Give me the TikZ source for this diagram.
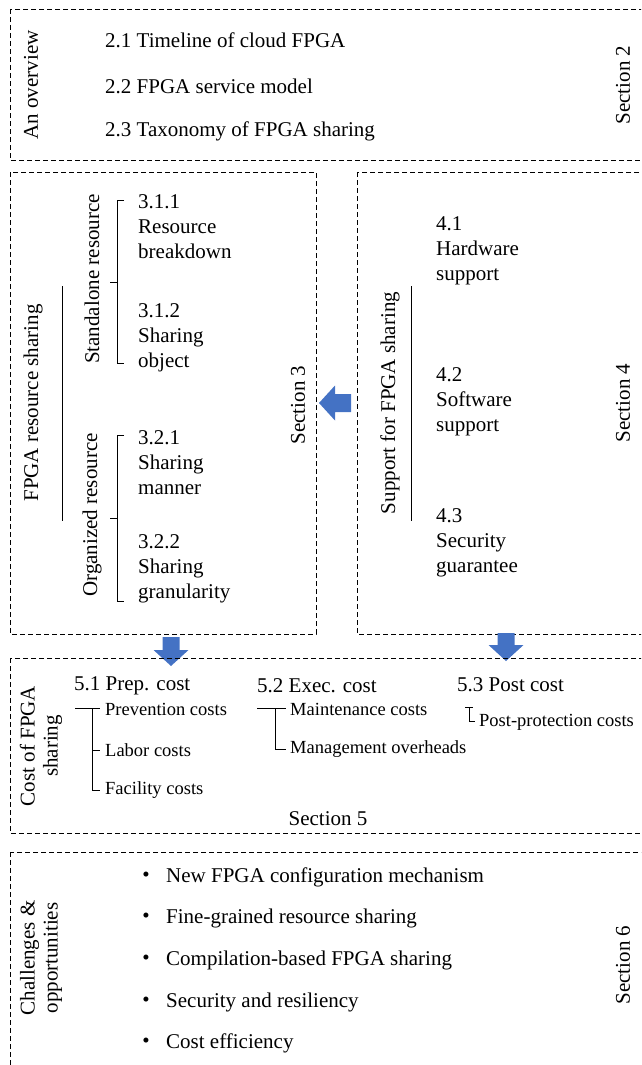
\documentclass[tikz,border=0pt]{standalone}
\usepackage{fontspec}
\setmainfont{Liberation Serif}
\usepackage{tikz}
\usepackage{xcolor}

\definecolor{arrowblue}{HTML}{4472C4}

\tikzset{
  secbox/.style={draw, dash pattern=on 5pt off 3pt, line width=0.8pt},
  txt/.style={inner sep=0pt, anchor=west, align=left, font=\fontsize{21}{25}\selectfont},
  subtxt/.style={inner sep=0pt, anchor=west, font=\fontsize{18.5}{22}\selectfont},
  sidetxt/.style={inner sep=0pt, rotate=90, align=center, font=\fontsize{21}{23}\selectfont},
  tree/.style={line width=0.8pt}
}

% fat block arrow: base point, angle, length
\newcommand{\fatarrow}[5]{%
  \fill[arrowblue, shift={#1}, rotate=#2]
    (0,-#4) -- (#3-16,-#4) -- (#3-16,-#5) -- (#3,0) -- (#3-16,#5) -- (#3-16,#4) -- (0,#4) -- cycle;}

\begin{document}
\begin{tikzpicture}[x=1pt, y=-1pt]
\useasboundingbox (0,0) rectangle (641,1065);
\clip (0,0) rectangle (641,1065);

% section 2
\draw[secbox] (10,9) rectangle (648,160);
\node[sidetxt] (ov) at (31,85) {An overview};
\node[txt] (s21) at (105,40) {2.1 Timeline of cloud FPGA};
\node[txt] (s22) at (105,86) {2.2 FPGA service model};
\node[txt] (s23) at (105,131) {2.3 Taxonomy of FPGA sharing};
\node[sidetxt] (sec2) at (623,85) {Section 2};

% section 3
\draw[secbox] (10,172) rectangle (316,634);
\node[sidetxt] (frs) at (33,403) {FPGA resource sharing};
\draw[tree] (62,286) -- (62,521);
\node[sidetxt] (sar) at (92,279) {Standalone resource};
\draw[tree] (124,200) -- (117,200) -- (117,363) -- (124,363);
\draw[tree] (110,282) -- (117,282);
\node[sidetxt] (orr) at (92,515) {Organized resource};
\draw[tree] (124,435) -- (117,435) -- (117,601) -- (124,601);
\draw[tree] (110,518) -- (117,518);
\node[txt] (s311) at (138,227) {3.1.1\\Resource\\breakdown};
\node[txt] (s312) at (138,338) {3.1.2\\Sharing\\object};
\node[txt] (s321) at (138,463) {3.2.1\\Sharing\\manner};
\node[txt] (s322) at (138,569) {3.2.2\\Sharing\\granularity};
\node[sidetxt] (sec3) at (298,405) {Section 3};

% section 4
\draw[secbox] (357,172) rectangle (648,634);
\node[sidetxt] (sfs) at (390,403) {Support for FPGA sharing};
\draw[tree] (411,286) -- (411,521);
\node[txt] (s41) at (436,251) {4.1\\Hardware\\support};
\node[txt] (s42) at (436,402) {4.2\\Software\\support};
\node[txt] (s43) at (436,543) {4.3\\Security\\guarantee};
\node[sidetxt] (sec4) at (623,403) {Section 4};

% arrows between sections
\fatarrow{(351,403)}{180}{32}{9}{17.5}
\fatarrow{(171,637)}{-90}{29}{8.5}{17.5}
\fatarrow{(506,633)}{-90}{28}{8.5}{17.5}

% section 5
\draw[secbox] (10,658) rectangle (648,833);
\node[sidetxt] (cost) at (41,746) {Cost of FPGA\\sharing};
\node[txt] (s51) at (74,686) {5.1 Prep. cost};
\draw[tree] (75,708) -- (100,708);
\draw[tree] (92,708) -- (92,790) -- (100,790);
\draw[tree] (92,750) -- (100,750);
\node[subtxt] (prev) at (105,709) {Prevention costs};
\node[subtxt] (labor) at (105,750) {Labor costs};
\node[subtxt] (facil) at (105,790) {Facility costs};
\node[txt] (s52) at (257,686) {5.2 Exec. cost};
\draw[tree] (257,708) -- (286,708);
\draw[tree] (275,708) -- (275,749) -- (286,749);
\node[subtxt] (maint) at (290,709) {Maintenance costs};
\node[subtxt] (mgmt) at (290,749) {Management overheads};
\node[txt] (s53) at (457,685) {5.3 Post cost};
\draw[tree] (465,707) -- (473,707);
\draw[tree] (469,707) -- (469,721) -- (475,721);
\node[subtxt] (postp) at (479,722) {Post-protection costs};
\node[txt, anchor=center] (sec5) at (328,819) {Section 5};

% section 6
\draw[secbox] (10,852) rectangle (648,1080);
\node[sidetxt] (chal) at (41,958) {Challenges \&\\opportunities};
\node[txt, anchor=center] (d1) at (146,877) {\textbullet};
\node[txt] (c1) at (166,877) {New FPGA configuration mechanism};
\node[txt, anchor=center] (d2) at (146,918) {\textbullet};
\node[txt] (c2) at (166,918) {Fine-grained resource sharing};
\node[txt, anchor=center] (d3) at (146,960) {\textbullet};
\node[txt] (c3) at (166,960) {Compilation-based FPGA sharing};
\node[txt, anchor=center] (d4) at (146,1002) {\textbullet};
\node[txt] (c4) at (166,1002) {Security and resiliency};
\node[txt, anchor=center] (d5) at (146,1043) {\textbullet};
\node[txt] (c5) at (166,1043) {Cost efficiency};
\node[sidetxt] (sec6) at (623,965) {Section 6};
\end{tikzpicture}
\end{document}
